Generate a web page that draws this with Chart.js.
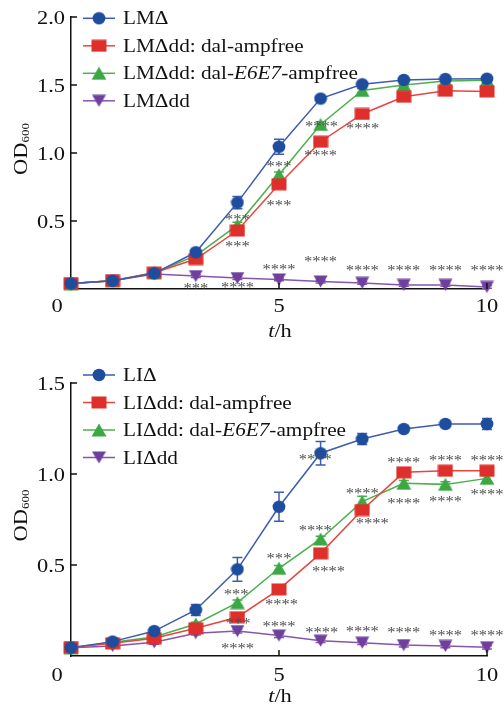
<!DOCTYPE html>
<html><head><meta charset="utf-8">
<script src="https://cdn.jsdelivr.net/npm/chart.js@4.4.1/dist/chart.umd.min.js"></script>
<style>
html,body{margin:0;padding:0;background:#fff;}
canvas{display:block;}
</style></head>
<body>
<canvas id="c1" width="504" height="353"></canvas>
<canvas id="c2" width="504" height="353"></canvas>
<script>
// ---------- data ----------
const hours = [0,1,2,3,4,5,6,7,8,9,10];
const xTicks = [0,5,10];
const topYTicks = [0.5,1.0,1.5,2.0];
const bottomYTicks = [0.5,1.0,1.5];

const topNames = ['LMΔ','LMΔdd: dal-ampfree','LMΔdd: dal-E6E7-ampfree','LMΔdd'];
const topLM      = [0.04,0.06,0.115,0.27,0.635,1.046,1.40,1.505,1.537,1.544,1.546];
const topLMamp   = [0.04,0.06,0.12,0.22,0.43,0.77,1.083,1.287,1.414,1.458,1.453];
const topLME6E7  = [0.04,0.06,0.12,0.245,0.47,0.84,1.21,1.46,1.50,1.53,1.535];
const topLMdd    = [0.04,0.06,0.11,0.095,0.08,0.07,0.055,0.045,0.03,0.03,0.015];
const topErrLM     = [0.005,0.01,0.01,0.02,0.045,0.055,0.015,0.01,0.01,0.01,0.015];
const topErrLMamp  = [0.005,0.01,0.01,0.01,0.02,0.02,0.02,0.015,0.015,0.01,0.01];
const topErrLME6E7 = [0.005,0.01,0.01,0.01,0.02,0.02,0.02,0.015,0.01,0.01,0.01];
const topErrLMdd   = [0.005,0.01,0.01,0.01,0.01,0.01,0.01,0.01,0.01,0.01,0.01];
const topStarT    = [6.02,7.01,6.0,5.0,5.0,4.0,4.0,5.0,6.0,7.0,8.0,9.0,10.0,3.0,4.0];
const topStarOD   = [1.213,1.199,1.002,0.917,0.63,0.532,0.329,0.16,0.218,0.157,0.152,0.152,0.152,0.022,0.03];
const topStarText = ['****','****','****','***','***','***','***','****','****','****','****','****','****','***','****'];

const botNames = ['LIΔ','LIΔdd: dal-ampfree','LIΔdd: dal-E6E7-ampfree','LIΔdd'];
const botLI      = [0.046,0.079,0.137,0.253,0.476,0.82,1.114,1.192,1.247,1.275,1.275];
const botLIamp   = [0.046,0.07,0.097,0.152,0.213,0.366,0.564,0.802,1.009,1.018,1.018];
const botLIE6E7  = [0.046,0.075,0.105,0.176,0.293,0.482,0.643,0.848,0.949,0.943,0.976];
const botLIdd    = [0.046,0.055,0.075,0.125,0.137,0.112,0.084,0.073,0.06,0.055,0.048];
const botErrLI     = [0.005,0.01,0.015,0.03,0.065,0.08,0.065,0.03,0.015,0.015,0.03];
const botErrLIamp  = [0.005,0.01,0.01,0.01,0.015,0.015,0.015,0.02,0.02,0.015,0.015];
const botErrLIE6E7 = [0.005,0.01,0.01,0.01,0.015,0.015,0.015,0.03,0.015,0.015,0.015];
const botErrLIdd   = [0.005,0.01,0.01,0.01,0.01,0.01,0.01,0.01,0.01,0.01,0.01];
const botStarT    = [5.87,8.0,9.0,10.0,7.0,8.0,9.0,10.0,7.24,5.87,5.0,6.19,3.97,5.06,4.02,5.0,6.03,7.0,8.0,9.0,10.0,4.0];
const botStarOD   = [1.095,1.077,1.086,1.086,0.908,0.852,0.861,0.899,0.742,0.705,0.551,0.476,0.35,0.298,0.194,0.176,0.143,0.147,0.143,0.128,0.128,0.055];
const botStarText = ['****','****','****','****','****','****','****','****','****','****','***','****','***','****','***','****','****','****','****','****','****','****'];

// ---------- styles ----------
const SERIF = "'Liberation Serif','Times New Roman',serif";
const SX = 1.18;
const lineColors   = ['#3d5cb0','#e8453f','#4cb04f','#8755ad'];
const markerColors = ['#1f4d9e','#df2f2b','#3da843','#6e3f9c'];
const shapes = ['circle','square','tri','tridown'];

function makeMarker(shape, color){
  const c = document.createElement('canvas');
  const ctx = c.getContext('2d');
  let w=14,h=14;
  if(shape==='square'){w=16;h=13;}
  if(shape==='tri'){w=16;h=14;}
  if(shape==='tridown'){w=15;h=13;}
  c.width=w; c.height=h;
  ctx.fillStyle=color;
  ctx.beginPath();
  if(shape==='circle'){ ctx.ellipse(w/2,h/2,6.4,6.2,0,0,Math.PI*2); }
  else if(shape==='square'){ ctx.rect(0.5,0.5,w-1,h-1); }
  else if(shape==='tri'){ ctx.moveTo(w/2,0.5); ctx.lineTo(w-0.5,h-0.5); ctx.lineTo(0.5,h-0.5); ctx.closePath(); }
  else { ctx.moveTo(0.5,0.5); ctx.lineTo(w-0.5,0.5); ctx.lineTo(w/2,h-0.5); ctx.closePath(); }
  ctx.fill();
  return c;
}
const markers = shapes.map((s,i)=>makeMarker(s, markerColors[i]));

function fontStr(p){ return (p.italic?'italic ':'') + p.size + 'px ' + SERIF; }
function drawRich(ctx, parts, x, y, align, rot){
  ctx.save();
  ctx.translate(x,y);
  if(rot) ctx.rotate(rot);
  ctx.scale(SX,1);
  ctx.textBaseline='alphabetic';
  ctx.textAlign='left';
  const widths = parts.map(p=>{ctx.font=fontStr(p); return ctx.measureText(p.text).width;});
  const total = widths.reduce((a,b)=>a+b,0);
  let cx = align==='center' ? -total/2 : (align==='right' ? -total : 0);
  parts.forEach((p,i)=>{ ctx.font=fontStr(p); ctx.fillStyle=p.color||'#111'; ctx.fillText(p.text, cx, p.dy||0); cx+=widths[i]; });
  ctx.restore();
}
function labelParts(label, size){
  return label.split(/(E6E7)/).filter(s=>s.length).map(s=>({text:s, size:size, italic: s==='E6E7'}));
}

const panelPlugin = {
  id:'panel',
  beforeDatasetsDraw(chart){
    const o = chart.options.plugins.panel;
    const ctx = chart.ctx, xs = chart.scales.x, ys = chart.scales.y;
    ctx.save();
    chart.data.datasets.forEach((ds,i)=>{
      const err = o.errors[i];
      ctx.strokeStyle = lineColors[i]; ctx.lineWidth = 1.5;
      ds.data.forEach((pt,j)=>{
        const e = err[j]; const px = xs.getPixelForValue(pt.x);
        const y1 = ys.getPixelForValue(pt.y+e), y2 = ys.getPixelForValue(pt.y-e);
        ctx.beginPath();
        ctx.moveTo(px,y1); ctx.lineTo(px,y2);
        ctx.moveTo(px-5,y1); ctx.lineTo(px+5,y1);
        ctx.moveTo(px-5,y2); ctx.lineTo(px+5,y2);
        ctx.stroke();
      });
    });
    ctx.restore();
  },
  afterDraw(chart){
    const o = chart.options.plugins.panel;
    const ctx = chart.ctx, xs = chart.scales.x, ys = chart.scales.y, a = chart.chartArea;
    ctx.save();
    // inward ticks
    ctx.strokeStyle='#111'; ctx.lineWidth=1.5;
    ctx.beginPath();
    o.yTicks.forEach(v=>{ const py=Math.round(ys.getPixelForValue(v)); ctx.moveTo(a.left,py); ctx.lineTo(a.left+6,py); });
    xTicks.forEach(v=>{ if(v===0) return; const px=xs.getPixelForValue(v); ctx.moveTo(px,a.bottom); ctx.lineTo(px,a.bottom-6); });
    ctx.stroke();
    // y tick labels
    o.yTicks.forEach(v=>{
      drawRich(ctx,[{text:v.toFixed(1),size:19}], a.left-6, ys.getPixelForValue(v)+6.5, 'right');
    });
    // x tick labels
    xTicks.forEach(v=>{
      const px = xs.getPixelForValue(v) + (v===0 ? -14 : 0);
      drawRich(ctx,[{text:String(v),size:19}], px, a.bottom+o.tickGap, 'center');
    });
    // x title
    drawRich(ctx,[{text:'t',size:19,italic:true},{text:'/h',size:19}], xs.getPixelForValue(5)+1, a.bottom+o.titleGap, 'center');
    // y title
    drawRich(ctx,[{text:'OD',size:19},{text:'600',size:11,dy:2}], 27, (a.top+a.bottom)/2-4, 'center', -Math.PI/2);
    // legend
    chart.data.datasets.forEach((ds,i)=>{
      const cy = a.top + o.legendTop + i*27.5;
      ctx.strokeStyle=lineColors[i]; ctx.lineWidth=1.5;
      ctx.beginPath(); ctx.moveTo(83,cy); ctx.lineTo(115,cy); ctx.stroke();
      const m = markers[i];
      ctx.drawImage(m, 99-m.width/2, cy-m.height/2);
      drawRich(ctx, labelParts(ds.label,18), 123, cy+6, 'left');
    });
    // significance stars
    o.starT.forEach((t,k)=>{
      drawRich(ctx,[{text:o.starText[k],size:14,color:'#4d4d4d'}], xs.getPixelForValue(t), ys.getPixelForValue(o.starOD[k])+7, 'center');
    });
    ctx.restore();
  }
};

function makeChart(id, names, series, errors, yMax, yTicks, padTop, xHeight, tickGap, titleGap, legendTop, starT, starOD, starText){
  const datasets = series.map((vals,i)=>({
    label: names[i],
    data: hours.map((h,j)=>({x:h,y:vals[j]})),
    borderColor: lineColors[i],
    backgroundColor: markerColors[i],
    borderWidth: 1.5,
    pointStyle: markers[i],
    pointRadius: 6,
    tension: 0,
    clip: false,
    order: i
  }));
  return new Chart(document.getElementById(id), {
    type:'line',
    data:{datasets},
    options:{
      responsive:false, animation:false, events:[],
      layout:{padding:{left:0,right:17,top:padTop,bottom:0}},
      plugins:{
        legend:{display:false}, tooltip:{enabled:false},
        panel:{errors, yTicks, tickGap, titleGap, legendTop, starT, starOD, starText}
      },
      scales:{
        x:{type:'linear',min:0,max:10,
           ticks:{display:false,stepSize:5},
           grid:{display:false,drawTicks:false},
           border:{display:true,color:'#111',width:1.5},
           afterFit:(s)=>{s.height=xHeight;}},
        y:{type:'linear',min:0,max:yMax,
           ticks:{display:false,stepSize:0.5},
           grid:{display:false,drawTicks:false},
           border:{display:true,color:'#111',width:1.5},
           afterFit:(s)=>{s.width=71;}}
      }
    },
    plugins:[panelPlugin]
  });
}

makeChart('c1', topNames, [topLM,topLMamp,topLME6E7,topLMdd], [topErrLM,topErrLMamp,topErrLME6E7,topErrLMdd],
  2.0, topYTicks, 17, 64, 23, 48, 1.3, topStarT, topStarOD, topStarText);
makeChart('c2', botNames, [botLI,botLIamp,botLIE6E7,botLIdd], [botErrLI,botErrLIamp,botErrLIE6E7,botErrLIdd],
  1.5, bottomYTicks, 30, 50, 25, 46, -8, botStarT, botStarOD, botStarText);
</script>
</body></html>
